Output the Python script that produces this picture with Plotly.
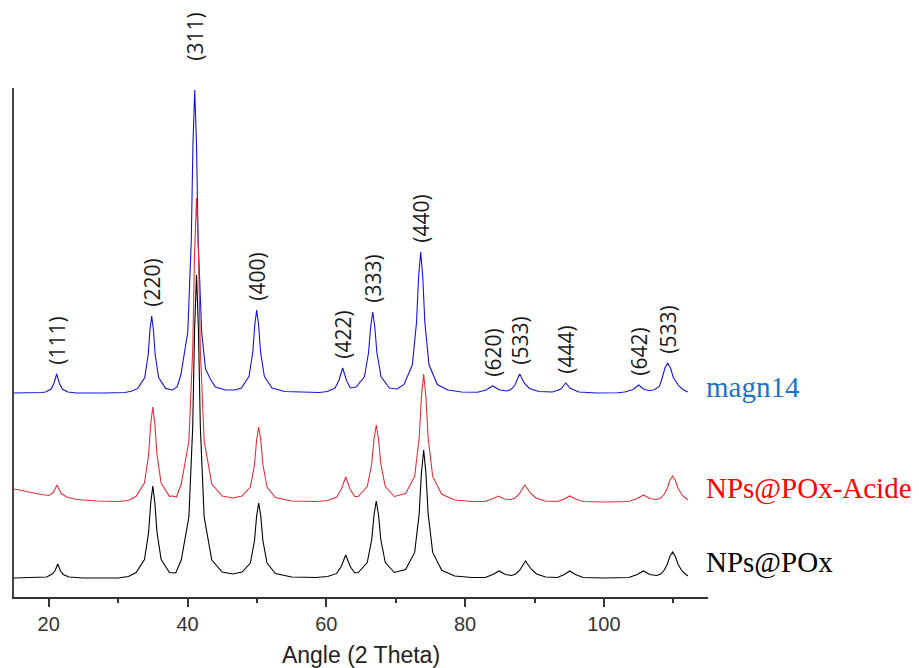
import plotly.graph_objects as go

# ---------------- data ----------------
# intensities are above each pattern's own baseline (arbitrary units)
blue_points = [
    (15.0, 0), (17.0, 0), (19.0, 0.5),
    (19.55, 1), (20.35, 4), (20.75, 9.5), (21.15, 19), (21.55, 9.5), (21.95, 4), (22.75, 1),
    (24.0, 0), (28.0, 0), (31.0, 0.5), (32.0, 2),
    (32.84, 4.6), (33.84, 15.4), (34.34, 38.5), (34.59, 63), (34.84, 77), (35.09, 63),
    (35.34, 38.5), (35.84, 15.4), (36.84, 4.6), (37.8, 3), (38.5, 6),
    (39.04, 18), (40.04, 61), (40.54, 152), (40.79, 250), (41.04, 303), (41.29, 250),
    (41.54, 152), (42.04, 61), (42.6, 24), (43.3, 14), (44.0, 6), (45.5, 3), (46.8, 3),
    (47.77, 5), (48.87, 16.6), (49.42, 41.5), (49.695, 68), (49.97, 83), (50.245, 68),
    (50.52, 41.5), (51.07, 16.6), (52.17, 5), (54.0, 1.5), (57.0, 0.5), (59.0, 0.5),
    (60.16, 1.5), (61.26, 5), (61.81, 12.5), (62.36, 25), (62.91, 12.5), (63.46, 5), (64.29, 6),
    (65.49, 16.2), (66.09, 40.5), (66.39, 66), (66.69, 81), (66.99, 66), (67.29, 40.5),
    (67.89, 16.2), (69.09, 5), (70.2, 4),
    (71.2, 8.5), (72.4, 28.2), (73.0, 70.5), (73.3, 116), (73.6, 141), (73.9, 116),
    (74.2, 70.5), (74.8, 28.2), (76.0, 8.5), (77.5, 3), (79.5, 1),
    (81.8, 0.8), (83.0, 3), (83.98, 7), (85.0, 3), (86.0, 2),
    (86.6, 3.5), (87.17, 8), (87.87, 19), (88.57, 9.5), (89.27, 4.5), (90.6, 1.5),
    (92.6, 1), (93.8, 4), (94.5, 10), (95.2, 4.5), (96.4, 1), (99.0, 0), (102.0, 0.3),
    (103.0, 1), (104.2, 3.5), (105.01, 8), (105.8, 3.5), (106.5, 2.5), (107.2, 3),
    (108.0, 6.5), (108.4, 15), (108.79, 25), (109.19, 30), (109.6, 25), (110.0, 15.5),
    (110.8, 7), (111.5, 3), (112.1, 1),
]

red_points = [
    (15.0, 13), (17.0, 10), (19.0, 7.5), (20.0, 6.5), (20.6, 9), (21.2, 17), (21.8, 8.5),
    (22.6, 5), (24.0, 2.5), (27.0, 1), (30.0, 0.5), (31.5, 1.5),
    (32.6, 5.7), (33.8, 19), (34.4, 47.5), (34.7, 78), (35.0, 95), (35.3, 78), (35.6, 47.5),
    (36.2, 19), (37.4, 5.7), (37.9, 6), (38.4, 5),
    (39.1, 18), (40.2, 61), (40.75, 152), (41.025, 250), (41.3, 304), (41.575, 250),
    (41.85, 152), (42.4, 61), (43.5, 18), (45.0, 6), (46.5, 4),
    (47.86, 6), (49.06, 15), (49.66, 37.5), (49.96, 62), (50.26, 75), (50.56, 62),
    (50.86, 37.5), (51.46, 15), (52.66, 4.5), (55.0, 1), (58.5, 0.5),
    (60.2, 1.5), (61.5, 5), (62.15, 12.5), (62.8, 25), (63.45, 12.5), (64.1, 5.5), (64.6, 5.5),
    (65.9, 15.4), (66.55, 38.5), (66.875, 63), (67.2, 77), (67.525, 63), (67.85, 38.5),
    (68.5, 15.4), (69.8, 5.5),
    (71.43, 8.5), (72.73, 25.6), (73.38, 64), (73.705, 105), (74.03, 128), (74.355, 105),
    (74.68, 64), (75.33, 25.6), (76.63, 7.7), (78.5, 2), (81.0, 0.5),
    (82.8, 0.5), (83.9, 3), (84.77, 6), (85.7, 3), (86.6, 2.5),
    (87.2, 4), (87.8, 8), (88.6, 17), (89.4, 9), (90.2, 4), (91.5, 1),
    (93.3, 0.5), (94.3, 3), (95.07, 6), (95.9, 3), (97.0, 0.5), (100.0, 0),
    (103.6, 0.5), (104.8, 3.5), (105.7, 7), (106.6, 3.5), (107.6, 2.5),
    (108.2, 4), (108.7, 8), (109.15, 14), (109.5, 21.5), (109.9, 26), (110.3, 21.5),
    (110.7, 13.5), (111.3, 6.5), (112.1, 2),
]

black_points = [
    (15.0, 0), (19.0, 0.5), (19.7, 1), (20.5, 4), (20.9, 7), (21.3, 14), (21.7, 7),
    (22.1, 3.5), (22.9, 1), (25.0, 0), (30.0, 0), (31.5, 1.5),
    (32.6, 5.5), (33.8, 18.4), (34.4, 46), (34.7, 75), (35.0, 92), (35.3, 75), (35.6, 46),
    (36.2, 18.4), (37.4, 5.5), (38.3, 5),
    (39.1, 18), (40.2, 61), (40.75, 151), (41.025, 249), (41.3, 303), (41.575, 249),
    (41.85, 151), (42.4, 61), (43.5, 18), (45.0, 6), (46.5, 4),
    (47.86, 6), (49.06, 15), (49.66, 37.5), (49.96, 62), (50.26, 75), (50.56, 62),
    (50.86, 37.5), (51.46, 15), (52.66, 4.5), (55.0, 1), (58.5, 0.5),
    (60.2, 1.5), (61.5, 4.6), (62.15, 11.5), (62.8, 23), (63.45, 11.5), (64.1, 5), (64.6, 5.5),
    (65.9, 15.4), (66.55, 38.5), (66.875, 63), (67.2, 77), (67.525, 63), (67.85, 38.5),
    (68.5, 15.4), (69.8, 5.5),
    (71.43, 8.5), (72.73, 25.6), (73.38, 64), (73.705, 105), (74.03, 128), (74.355, 105),
    (74.68, 64), (75.33, 25.6), (76.63, 7.7), (78.5, 2), (81.0, 0.5),
    (82.9, 0.5), (84.0, 3.5), (84.9, 7), (85.8, 3.5), (86.7, 2.5),
    (87.3, 4), (87.9, 8), (88.7, 17), (89.5, 9), (90.3, 4), (91.6, 1),
    (93.3, 0.5), (94.3, 3.5), (95.07, 7), (95.9, 3.5), (97.0, 0.5), (100.0, 0),
    (103.6, 0.5), (104.8, 3.5), (105.7, 7), (106.6, 3.5), (107.6, 2.5),
    (108.2, 4), (108.7, 8), (109.15, 14), (109.5, 21.5), (109.9, 26), (110.3, 21.5),
    (110.7, 13.5), (111.3, 6.5), (112.1, 2),
]

# vertical stacking offsets of the three patterns
offset_blue = 204
offset_red = 95
offset_black = 19

series_names = ["magn14", "NPs@POx-Acide", "NPs@POx"]

# Miller indices labelled above the magn14 peaks
hkl_labels = ["(111)", "(220)", "(311)", "(400)", "(422)", "(333)", "(440)",
              "(620)", "(533)", "(444)", "(642)", "(533)"]
hkl_angles = [21.15, 34.84, 41.04, 49.97, 62.36, 66.69, 73.6,
              83.98, 87.87, 94.5, 105.01, 109.19]
hkl_heights = [19, 77, 303, 83, 25, 81, 141, 7, 19, 10, 8, 30]

x_ticks = [20, 40, 60, 80, 100]
x_title = "Angle (2 Theta)"

# ---------------- figure ----------------
def split(points, offset):
    xs = [p[0] for p in points]
    ys = [p[1] + offset for p in points]
    return xs, ys

fig = go.Figure()
for pts, off, col in [(blue_points, offset_blue, "#1414d8"),
                      (red_points, offset_red, "#e0303a"),
                      (black_points, offset_black, "#000000")]:
    xs, ys = split(pts, off)
    fig.add_trace(go.Scatter(x=xs, y=ys, mode="lines",
                             line=dict(color=col, width=1.1),
                             showlegend=False, hoverinfo="skip"))

annotations = []
for lab, ang, h in zip(hkl_labels, hkl_angles, hkl_heights):
    gap = 27 if lab == "(311)" else 7
    annotations.append(dict(
        x=ang, y=offset_blue + h, xref="x", yref="y", text=lab,
        textangle=-90, showarrow=False, xanchor="center", yanchor="bottom",
        yshift=gap, font=dict(family="Open Sans", size=21, color="#1a1a1a")))

label_specs = [(series_names[0], offset_blue + 6, "#1a73c4"),
               (series_names[1], offset_red + 14, "#ff0000"),
               (series_names[2], offset_black + 16, "#000000")]
for txt, yv, col in label_specs:
    annotations.append(dict(
        x=1.0, y=yv, xref="paper", yref="y", text=txt, showarrow=False,
        xanchor="left", yanchor="middle", xshift=-4,
        font=dict(family="Liberation Serif", size=29, color=col)))

fig.update_layout(
    width=919, height=668,
    margin=dict(l=14, r=211, t=88, b=71, autoexpand=False),
    paper_bgcolor="white", plot_bgcolor="white",
    annotations=annotations,
    xaxis=dict(range=[15, 115], tickvals=x_ticks, ticks="outside", ticklen=8,
               tickwidth=2, tickcolor="#333", showline=True, linecolor="#333",
               linewidth=2, showgrid=False, zeroline=False, automargin=False,
               minor=dict(dtick=10, tick0=0, ticks="outside", ticklen=4,
                          tickwidth=2, tickcolor="#333", showgrid=False),
               tickfont=dict(family="Liberation Sans", size=20, color="#333"),
               ticklabelstandoff=0,
               title=dict(text=x_title, standoff=13,
                          font=dict(family="Liberation Sans", size=23, color="#222"))),
    yaxis=dict(range=[0, 509], showline=True, linecolor="#444", linewidth=2,
               automargin=False,
               showticklabels=False, ticks="", showgrid=False, zeroline=False),
)

fig.write_html("out.html", config={"displayModeBar": False},
               post_script="document.body.style.margin='0';")
